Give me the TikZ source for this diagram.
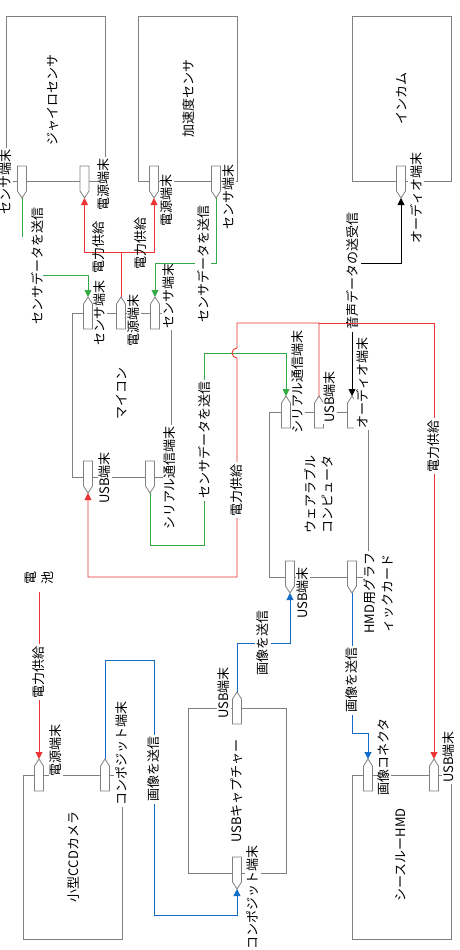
\documentclass[tikz,border=0pt]{standalone}
\usepackage{fontspec}
\setmainfont{Noto Sans CJK JP}
\usetikzlibrary{arrows.meta}
\definecolor{rc}{RGB}{236,52,52}
\definecolor{gc}{RGB}{52,170,68}
\definecolor{bc}{RGB}{20,108,200}
\definecolor{bx}{RGB}{128,128,128}
\tikzset{
  box/.style={draw=bx, line width=0.8pt, minimum width=99pt, minimum height=165pt, inner sep=0pt},
  portst/.style={draw=bx, fill=white, line width=0.8pt},
  txt/.style={rotate=90, font=\fontsize{13}{17}\selectfont, inner sep=0pt, align=center},
  plab/.style={txt, fill=white, inner sep=1.5pt},
  elab/.style={txt, fill=white, inner sep=2pt},
  wire/.style={line width=0.9pt},
  rl/.style={wire, draw=rc},
  gl/.style={wire, draw=gc},
  bl/.style={wire, draw=bc},
  kl/.style={wire, draw=black},
  arr/.style={-{Triangle[length=7pt,width=7pt]}},
  darr/.style={{Triangle[length=7pt,width=7pt]}-{Triangle[length=7pt,width=7pt]}}
}
\newcommand{\mkport}[4]{%
  \draw[portst] ({#2-4.5},{#3-16*(#4)}) -- ({#2+4.5},{#3-16*(#4)}) -- ({#2+4.5},{#3+9*(#4)}) -- (#2,{#3+16*(#4)}) -- ({#2-4.5},{#3+9*(#4)}) -- cycle;
  \coordinate (#1) at (#2,{#3+16*(#4)});
}
\begin{document}
\begin{tikzpicture}[x=1pt,y=-1pt]
\useasboundingbox (0,0) rectangle (460,950);
\fill[white] (0,0) rectangle (460,950);

% boxes
\node[box] (gyro) at (55.5,99) {};
\node[box] (accel) at (187.5,99) {};
\node[box] (incom) at (401.5,99) {};
\node[box, minimum height=164pt] (mcu) at (121.5,395) {};
\node[box] (wpc) at (318.5,494.5) {};
\node[box, minimum width=98pt] (cap) at (237,790.5) {};
\node[box, minimum height=164pt] (cam) at (72.5,857) {};
\node[box, minimum height=164pt] (hmd) at (401.5,857) {};

% box texts
\node[txt] (gyroT) at (53,100) {ジャイロセンサ};
\node[txt] (accelT) at (189,98) {加速度センサ};
\node[txt] (incomT) at (402,98) {インカム};
\node[txt] (mcuT) at (122,393) {マイコン};
\node[txt] (wpcT) at (319,494) {ウェアラブル\\コンピュータ};
\node[txt] (capT) at (237,791) {USBキャプチャー};
\node[txt] (camT) at (74,857) {小型CCDカメラ};
\node[txt] (hmdT) at (401,855) {シースルーHMD};

% ports
\mkport{gS}{22}{182}{1}
\mkport{gP}{84.5}{182}{1}
\mkport{aP}{154}{182}{1}
\mkport{aS}{216}{182}{1}
\mkport{iA}{401}{182}{1}
\mkport{mS1}{88}{313}{-1}
\mkport{mP}{121}{313}{-1}
\mkport{mS2}{155}{313}{-1}
\mkport{mU}{88}{477}{1}
\mkport{mR}{150}{477}{1}
\mkport{wR}{286}{412}{-1}
\mkport{wU}{319}{412}{-1}
\mkport{wA}{352}{412}{-1}
\mkport{wB}{290}{577}{1}
\mkport{wH}{352}{577}{1}
\mkport{cU}{237}{708}{-1}
\mkport{cC}{237}{873}{1}
\mkport{kP}{39}{775}{-1}
\mkport{kC}{105}{775}{-1}
\mkport{hI}{368}{775}{-1}
\mkport{hU}{434}{775}{-1}

% port labels
\node[plab] (gSL) at (6,182) {センサ端末};
\node[plab] (gPL) at (104,184) {電源端末};
\node[plab] (aPL) at (167,200) {電源端末};
\node[plab] (aSL) at (229,197) {センサ端末};
\node[plab] (iAL) at (416,198) {オーディオ端末};
\node[plab] (mS1L) at (100,313) {センサ端末};
\node[plab] (mPL) at (134,320) {電源端末};
\node[plab] (mS2L) at (169,296) {センサ端末};
\node[plab] (mUL) at (105,478) {USB端末};
\node[plab] (mRL) at (170,478) {シリアル通信端末};
\node[plab] (wRL) at (298,382) {シリアル通信端末};
\node[plab] (wUL) at (330,397) {USB端末};
\node[plab] (wAL) at (362,383) {オーディオ端末};
\node[plab] (wBL) at (303,593) {USB端末};
\node[plab, font=\fontsize{13}{18}\selectfont] (wHL) at (379,593) {HMD用グラフ\\ィックカード};
\node[plab] (cUL) at (224,693) {USB端末};
\node[plab] (cCL) at (253,897) {コンポジット端末};
\node[plab] (kPL) at (56,750) {電源端末};
\node[plab] (kCL) at (122,753) {コンポジット端末};
\node[plab] (hIL) at (384,757) {画像コネクタ};
\node[plab] (hUL) at (449,757) {USB端末};

% sensor wires
\coordinate (g1) at (22,237);
\coordinate (g2) at (43,275);
\draw[gl] (gS) -- (g1);
\draw[gl, arr] (g2) -| (mS1);
\node[txt] (gSD) at (37,266) {センサデータを送信};

\draw[gl, arr] (aS) -- (216,263) -- (155,263) -- (mS2);
\node[elab] (aSD) at (203,264) {センサデータを送信};

\coordinate (pj) at (121,252);
\draw[rl, darr] (gP) -- (84.5,252) -- (154,252) -- (aP);
\draw[rl] (mP) -- (pj);
\node[txt] (gPW) at (99,247) {電力供給};
\node[txt] (aPW) at (141,243) {電力供給};

% mcu serial -> wearable serial
\draw[gl, arr] (mR) -- (150,545) -- (204,545) -- (204,353) -- (286,353) -- (wR);
\node[elab] (mSD) at (204,440) {センサデータを送信};

% audio
\draw[kl, darr] (wA) -- (352,263) -- (401,263) -- (iA);
\node[elab] (aud) at (353,271) {音声データの送受信};

% power from wearable USB
\coordinate (rj) at (319,323);
\draw[rl, arr] (wU) -- (rj) -- (237,323) -- (237,348) arc[start angle=270, end angle=90, radius=5] -- (237,577) -- (88,577) -- (mU);
\draw[rl, arr] (rj) -- (434,323) -- (hU);
\node[elab] (pw1) at (237,490) {電力供給};
\node[elab] (pw2) at (434,446) {電力供給};

% image wires
\draw[bl, arr] (cU) -- (237,643) -- (290,643) -- (wB);
\node[elab] (im1) at (263,643) {画像を送信};
\draw[bl, arr] (kC) -- (105,660) -- (154,660) -- (154,915) -- (237,915) -- (cC);
\node[elab] (im2) at (154,769) {画像を送信};
\draw[bl, arr] (wH) -- (352,733) -- (368,733) -- (hI);
\node[elab] (im3) at (352,680) {画像を送信};

% battery
\node[txt] (bat) at (39,578) {電\\池};
\coordinate (batE) at (39,592);
\draw[rl, arr] (batE) -- (kP);
\node[elab] (pw3) at (39,672) {電力供給};
\end{tikzpicture}
\end{document}
